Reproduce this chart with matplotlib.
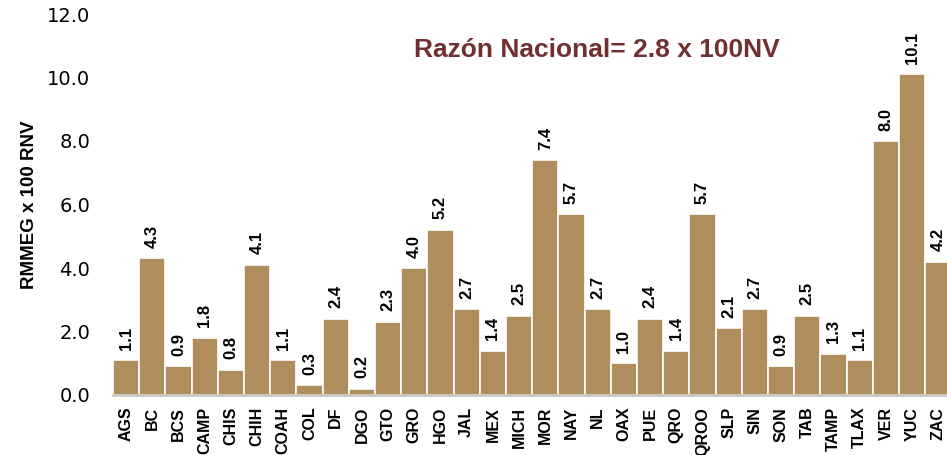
import matplotlib
matplotlib.use("Agg")
import matplotlib.pyplot as plt

estados = ["AGS", "BC", "BCS", "CAMP", "CHIS", "CHIH", "COAH", "COL", "DF", "DGO",
           "GTO", "GRO", "HGO", "JAL", "MEX", "MICH", "MOR", "NAY", "NL", "OAX",
           "PUE", "QRO", "QROO", "SLP", "SIN", "SON", "TAB", "TAMP", "TLAX", "VER",
           "YUC", "ZAC"]
razon = [1.1, 4.3, 0.9, 1.8, 0.8, 4.1, 1.1, 0.3, 2.4, 0.2,
         2.3, 4.0, 5.2, 2.7, 1.4, 2.5, 7.4, 5.7, 2.7, 1.0,
         2.4, 1.4, 5.7, 2.1, 2.7, 0.9, 2.5, 1.3, 1.1, 8.0,
         10.1, 4.2]
y_ticks = [0, 2, 4, 6, 8, 10, 12]
titulo = "Razón Nacional= 2.8 x 100NV"

bar_color = "#B08D5C"
fuente = "Liberation Sans"

fig = plt.figure(figsize=(9.47, 4.55), dpi=100)
# los ejes se salen por la derecha, como en la imagen original (ZAC cortado)
ax = fig.add_axes([113 / 947, 60 / 455, 32 * 26.2 / 947, 381 / 455])

x = list(range(len(estados)))
ax.bar(x, razon, width=1.0, color=bar_color, edgecolor="white", linewidth=1.2)

for xi, v in zip(x, razon):
    ax.text(xi, v + 0.33, f"{v:.1f}", rotation=90, ha="center", va="bottom",
            fontsize=12, fontweight="bold", family=fuente)

ax.set_xlim(-0.5, len(estados) - 0.5)
ax.set_ylim(0, 12)
ax.set_yticks(y_ticks)
ax.set_yticklabels([f"{t:.1f}" for t in y_ticks], fontsize=14, family="DejaVu Sans")
ax.set_xticks(x)
ax.set_xticklabels(estados, rotation=90, fontsize=11.5, fontweight="bold",
                   family=fuente)
ax.tick_params(axis="both", length=0)
ax.tick_params(axis="y", pad=16.5)
ax.tick_params(axis="x", pad=8.5)

for side in ["top", "right", "left"]:
    ax.spines[side].set_visible(False)
ax.spines["bottom"].set_color("#C8C8C8")
ax.spines["bottom"].set_linewidth(2)

ax.set_ylabel("RMMEG x 100 RNV", fontsize=13.5, fontweight="bold",
              family=fuente, labelpad=6)

fig.text(597 / 947, 1 - 50 / 455, titulo, ha="center", va="center",
         fontsize=19, fontweight="bold", color="#722F2F", family="Liberation Sans")

fig.savefig("out.png", dpi=100)
